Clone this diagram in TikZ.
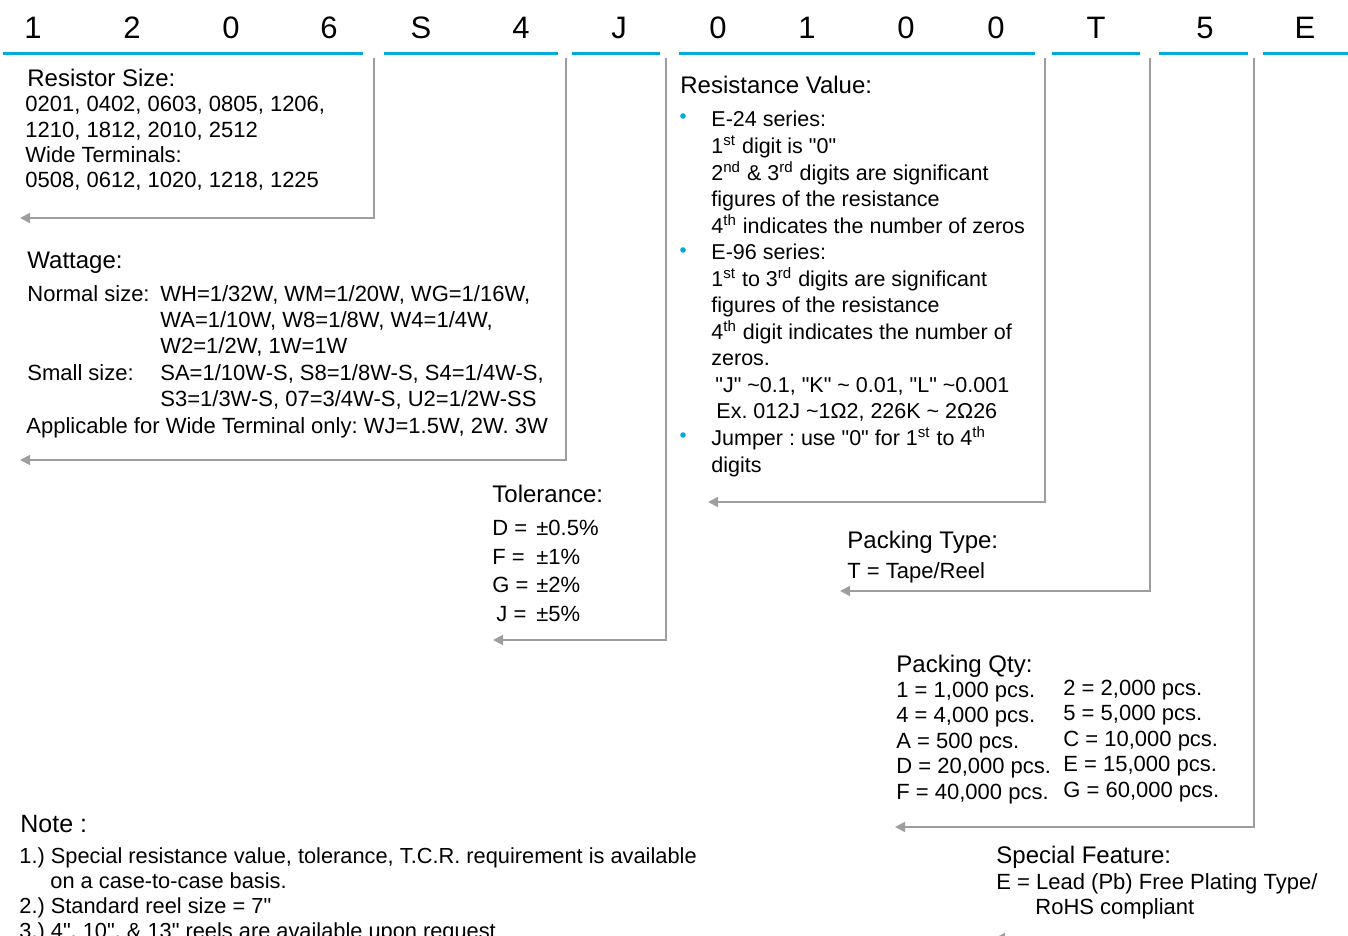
\documentclass[tikz,border=0pt]{standalone}
\usepackage{fontspec}
\setmainfont{Liberation Sans}[Ligatures=TeXOff]
\usetikzlibrary{arrows.meta}
\definecolor{codeblue}{RGB}{0,172,214}
\definecolor{leadgray}{RGB}{158,158,158}
\frenchspacing

\begin{document}
\begin{tikzpicture}[x=0.5pt, y=-0.5pt,
    digit/.style={anchor=base, inner sep=0, font=\fontsize{15.5}{18}\selectfont},
    codeline/.style={codeblue, line width=1.5pt},
    lead/.style={leadgray, line width=0.9pt, -{Triangle[length=5pt,width=5pt]}},
    head/.style={anchor=base west, inner sep=0, font=\fontsize{12}{14}\selectfont},
    body/.style={anchor=base west, inner sep=0, align=left, font=\fontsize{11}{#1}\selectfont},
    body/.default=13.2,
    bullet/.style={circle, fill=codeblue, inner sep=0, minimum size=2.8pt}]
    \useasboundingbox (0,0) rectangle (1348,936);
    \clip (0,0) rectangle (1348,936);

    \foreach \c/\x [count=\i] in {1/33, 2/132, 0/231, 6/329, S/421, 4/521, J/619,
        0/718, 1/807, 0/906, 0/996, T/1096, 5/1205, E/1305}
        \node[digit] (d\i) at (\x,39) {\c};

    \foreach \a/\b in {3/363, 384/558, 572/660, 679/1035, 1052/1140, 1159/1248, 1263/1348}
        \draw[codeline] (\a,54) -- (\b,54);

    \node[head] (size title) at (27,87) {Resistor Size:};
    \node[body=12.67] (size text) at (25,188) {0201, 0402, 0603, 0805, 1206,\\
        1210, 1812, 2010, 2512\\Wide Terminals:\\0508, 0612, 1020, 1218, 1225};

    \node[head] (watt title) at (27,268) {Wattage:};
    \node[body=13.2] (watt text) at (27,433) {%
        \makebox[66.5pt][l]{Normal size:}WH=1/32W, WM=1/20W, WG=1/16W,\\
        \hspace*{66.5pt}WA=1/10W, W8=1/8W, W4=1/4W,\\
        \hspace*{66.5pt}W2=1/2W, 1W=1W\\
        \makebox[66.5pt][l]{Small size:}SA=1/10W-S, S8=1/8W-S, S4=1/4W-S,\\
        \hspace*{66.5pt}S3=1/3W-S, 07=3/4W-S, U2=1/2W-SS\\
        \hspace*{-0.5pt}Applicable for Wide Terminal only: WJ=1.5W, 2W. 3W};

    \node[head] (tol title) at (492,502) {Tolerance:};
    \node[body=14.17] (tol text) at (492,621) {%
        \makebox[22pt][l]{D =}±0.5\%\\\makebox[22pt][l]{F =}±1\%\\
        \makebox[22pt][l]{G =}±2\%\\\hspace*{2pt}\makebox[20pt][l]{J =}±5\%};

    \node[head] (res title) at (680,94) {Resistance Value:};
    \node[body, font=\fontsize{10.75}{13.27}\selectfont] (res text) at (711,472) {%
        E-24 series:\\
        1\textsuperscript{st} digit is "0"\\
        2\textsuperscript{nd} \& 3\textsuperscript{rd} digits are significant\\
        figures of the resistance\\
        4\textsuperscript{th} indicates the number of zeros\\
        E-96 series:\\
        1\textsuperscript{st} to 3\textsuperscript{rd} digits are significant\\
        figures of the resistance\\
        4\textsuperscript{th} digit indicates the number of\\
        zeros.\\
        \hspace*{2pt}"J" \textasciitilde0.1, "K" \textasciitilde{} 0.01, "L" \textasciitilde0.001\\
        \hspace*{2.5pt}Ex. 012J \textasciitilde1Ω2, 226K \textasciitilde{} 2Ω26\\
        Jumper : use "0" for 1\textsuperscript{st} to 4\textsuperscript{th}\\
        digits};
    \node[bullet] (b1) at (683,116) {};
    \node[bullet] (b2) at (683,250) {};
    \node[bullet] (b3) at (683,435) {};

    \node[head] (pt title) at (847,548) {Packing Type:};
    \node[body] (pt text) at (847,578) {T = Tape/Reel};

    \node[head] (pq title) at (896,672) {Packing Qty:};
    \node[body=12.75] (pq left) at (896,799) {1 = 1,000 pcs.\\4 = 4,000 pcs.\\
        A = 500 pcs.\\D = 20,000 pcs.\\F = 40,000 pcs.};
    \node[body=12.75] (pq right) at (1063,797) {2 = 2,000 pcs.\\5 = 5,000 pcs.\\
        C = 10,000 pcs.\\E = 15,000 pcs.\\G = 60,000 pcs.};

    \node[head] (sf title) at (996,863) {Special Feature:};
    \node[body=12.5] (sf text) at (996,914) {E = Lead (Pb) Free Plating Type/\\
        \hspace*{19.5pt}RoHS compliant};

    \node[anchor=base west, inner sep=0, font=\fontsize{12.5}{15}\selectfont]
        (note title) at (20,832) {Note :};
    \node[body, font=\fontsize{10.9}{12.5}\selectfont] (note text) at (19,938) {%
        1.) Special resistance value, tolerance, T.C.R. requirement is available\\
        \hspace*{15.5pt}on a case-to-case basis.\\
        2.) Standard reel size = 7"\\
        3.) 4", 10", \& 13" reels are available upon request};

    \coordinate (size top) at (374,58);   \coordinate (size end) at (20,218);
    \coordinate (watt top) at (566,58);   \coordinate (watt end) at (20,460);
    \coordinate (tol top) at (666,58);    \coordinate (tol end) at (493,640);
    \coordinate (res top) at (1045,58);   \coordinate (res end) at (708,502);
    \coordinate (pt top) at (1150,58);    \coordinate (pt end) at (840,591);
    \coordinate (pq top) at (1254,58);    \coordinate (pq end) at (895,827);
    \coordinate (sf top) at (1362,58);    \coordinate (sf end) at (995,938);
    \draw[lead] (size top) |- (size end);
    \draw[lead] (watt top) |- (watt end);
    \draw[lead] (tol top) |- (tol end);
    \draw[lead] (res top) |- (res end);
    \draw[lead] (pt top) |- (pt end);
    \draw[lead] (pq top) |- (pq end);
    \draw[lead] (sf top) |- (sf end);
\end{tikzpicture}
\end{document}
